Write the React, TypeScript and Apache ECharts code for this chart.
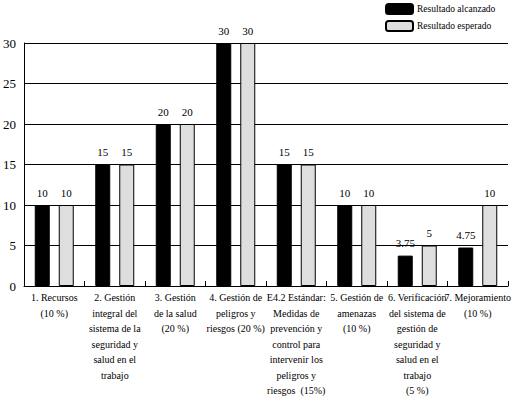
import { useEffect, useRef } from "react";
import * as echarts from "echarts";

const categories = [
  "1. Recursos\n(10 %)",
  "2. Gestión\nintegral del\nsistema de la\nseguridad y\nsalud en el\ntrabajo",
  "3. Gestión\nde la salud\n(20 %)",
  "4. Gestión de\npeligros y\nriesgos (20 %)",
  "E4.2 Estándar:\nMedidas de\nprevención y\ncontrol para\nintervenir los\npeligros y\nriesgos  (15%)",
  "5. Gestión de\namenazas\n(10 %)",
  "6. Verificación\ndel sistema de\ngestión de\nseguridad y\nsalud en el\ntrabajo\n(5 %)",
  "7. Mejoramiento\n(10 %)",
];
const alcanzado = [10, 15, 20, 30, 15, 10, 3.75, 4.75];
const esperado = [10, 15, 20, 30, 15, 10, 5, 10];

const serif = "Liberation Serif, Times New Roman, serif";

export default function App() {
  const ref = useRef<HTMLDivElement | null>(null);

  useEffect(() => {
    if (!ref.current) return;
    const chart = echarts.init(ref.current, null, { renderer: "svg" });
    const label = {
      show: true,
      position: "top" as const,
      distance: 7,
      color: "#000",
      fontFamily: serif,
      fontSize: 11,
    };
    chart.setOption({
      animation: false,
      backgroundColor: "#fff",
      textStyle: { fontFamily: serif },
      legend: {
        orient: "vertical",
        left: 385,
        top: 3,
        padding: 0,
        itemWidth: 27,
        itemHeight: 10,
        itemGap: 5,
        textStyle: { fontFamily: serif, fontSize: 9.5, color: "#000", padding: [0, 0, 0, -1] },
        data: ["Resultado alcanzado", "Resultado esperado"],
      },
      grid: { left: 23, right: 15, top: 43, bottom: 116, containLabel: false },
      xAxis: {
        type: "category",
        data: categories,
        axisLine: { lineStyle: { color: "#000", width: 1 } },
        axisTick: { show: true, inside: true, length: 5, interval: 0, lineStyle: { color: "#000" } },
        axisLabel: {
          interval: 0,
          color: "#000",
          fontFamily: serif,
          fontSize: 10,
          lineHeight: 15.5,
          margin: 4,
          align: "center",
        },
      },
      yAxis: {
        type: "value",
        min: 0,
        max: 30,
        interval: 5,
        axisLine: { show: true, lineStyle: { color: "#000", width: 1 } },
        axisTick: { show: false },
        splitLine: { lineStyle: { color: "#000", width: 1 } },
        axisLabel: { color: "#000", fontFamily: serif, fontSize: 13, margin: 8 },
      },
      series: [
        {
          name: "Resultado alcanzado",
          type: "bar",
          data: alcanzado,
          barWidth: 15,
          barGap: "60%",
          itemStyle: { color: "#000", borderColor: "#000", borderWidth: 1 },
          label,
        },
        {
          name: "Resultado esperado",
          type: "bar",
          data: esperado,
          barWidth: 15,
          itemStyle: { color: "#dedede", borderColor: "#000", borderWidth: 1 },
          label,
        },
      ],
    });
    return () => chart.dispose();
  }, []);

  return (
    <div
      ref={ref}
      style={{ position: "fixed", left: 0, top: 0, width: 523, height: 402, background: "#fff" }}
    />
  );
}
